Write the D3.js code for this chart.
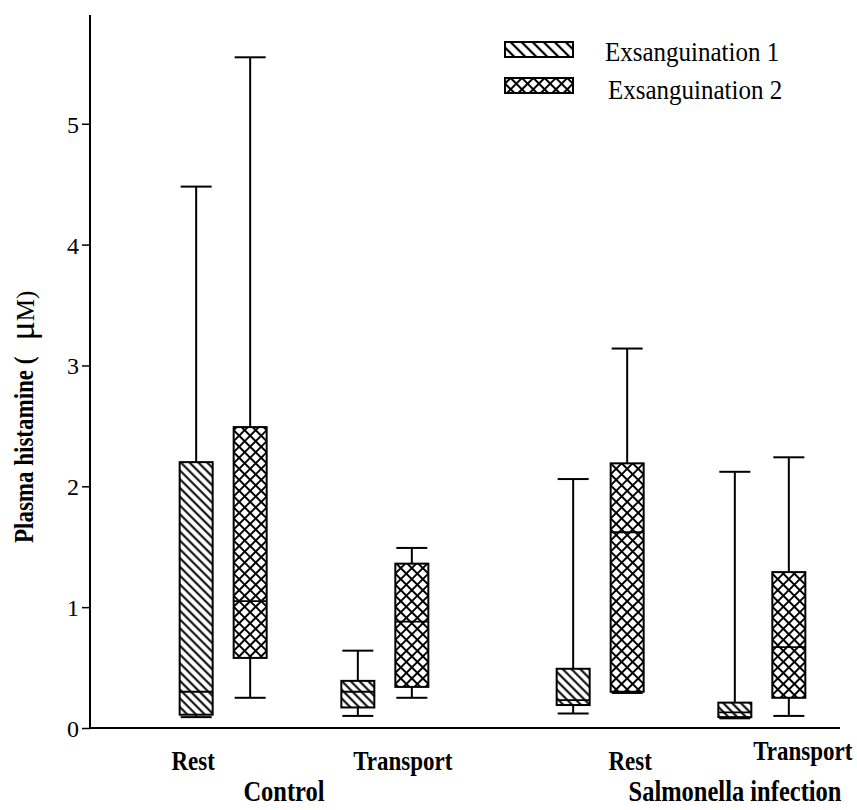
<!DOCTYPE html>
<html>
<head>
<meta charset="utf-8">
<script src="https://cdn.jsdelivr.net/npm/d3@7"></script>
<style>
    body { margin: 0; background: #fff; }
    svg { display: block; }
    svg text { font-family: "Liberation Serif", "Times New Roman", Times, "DejaVu Serif", serif; }
</style>
</head>
<body>
<svg id="chart" width="857" height="810"></svg>
<script>
// groups / conditions / series
var groups = ["Control", "Salmonella infection"];
var conditions = ["Rest", "Transport"];
var series = ["Exsanguination 1", "Exsanguination 2"];
var yTicks = [0, 1, 2, 3, 4, 5];

// box stats per cell: [min, q1, median, q3, max]
// order: Control Rest, Control Transport, Salmonella Rest, Salmonella Transport
var exsang1 = [
    [0.09, 0.11, 0.30, 2.20, 4.48],
    [0.10, 0.17, 0.30, 0.39, 0.64],
    [0.12, 0.19, 0.23, 0.49, 2.06],
    [0.08, 0.09, 0.13, 0.21, 2.12]
];
var exsang2 = [
    [0.25, 0.58, 1.05, 2.49, 5.55],
    [0.25, 0.34, 0.88, 1.36, 1.49],
    [0.29, 0.30, 1.62, 2.19, 3.14],
    [0.10, 0.25, 0.67, 1.29, 2.24]
];

var svg = d3.select("#chart");
var boxWidth = 33;
var serifFont = "'Liberation Serif', 'Times New Roman', Times, 'DejaVu Serif', serif";
var stretch = 1.18; // the original lettering is drawn taller than normal

var y = d3.scaleLinear().domain([0, 5.9]).range([728, 15]);

// nested x scales: group -> condition -> series
var xGroup = d3.scaleBand().domain(groups).range([115.5, 869.5]).padding(0);
var xCond = d3.scalePoint().domain(conditions).range([0, xGroup.bandwidth()]).padding(0.666);
var xSeries = d3.scalePoint().domain(series).range([-27, 27]);

// patterns
var defs = svg.append("defs");

function addHatch(id, size, sw) {
    var p = defs.append("pattern")
        .attr("id", id)
        .attr("patternUnits", "userSpaceOnUse")
        .attr("width", size)
        .attr("height", size)
        .attr("patternTransform", "rotate(-45)");
    p.append("line")
        .attr("x1", size / 2).attr("y1", 0)
        .attr("x2", size / 2).attr("y2", size)
        .attr("stroke", "#000")
        .attr("stroke-width", sw);
}

function addCross(id, size, sw) {
    var p = defs.append("pattern")
        .attr("id", id)
        .attr("patternUnits", "userSpaceOnUse")
        .attr("width", size)
        .attr("height", size)
        .attr("patternTransform", "rotate(45)");
    p.append("line")
        .attr("x1", size / 2).attr("y1", 0)
        .attr("x2", size / 2).attr("y2", size)
        .attr("stroke", "#000")
        .attr("stroke-width", sw);
    p.append("line")
        .attr("x1", 0).attr("y1", size / 2)
        .attr("x2", size).attr("y2", size / 2)
        .attr("stroke", "#000")
        .attr("stroke-width", sw);
}

addHatch("hatch1", 6.2, 2);
addCross("hatch2", 7.8, 2);
addHatch("hatch1legend", 7.8, 2.2);
addCross("hatch2legend", 8, 2);

var fills = ["url(#hatch1)", "url(#hatch2)"];
var legendFills = ["url(#hatch1legend)", "url(#hatch2legend)"];

// build the boxes from the arrays
var cells = [];
groups.forEach(function (g, gi) {
    conditions.forEach(function (c, ci) {
        var idx = gi * conditions.length + ci;
        [exsang1, exsang2].forEach(function (arr, si) {
            var s = arr[idx];
            cells.push({
                group: g, condition: c, series: series[si], si: si,
                min: s[0], q1: s[1], median: s[2], q3: s[3], max: s[4]
            });
        });
    });
});

function cx(d) {
    return xGroup(d.group) + xCond(d.condition) + xSeries(d.series);
}

var boxes = svg.selectAll(".box")
    .data(cells)
    .enter()
    .append("g")
    .attr("class", "box")
    .attr("transform", function (d) { return "translate(" + cx(d) + ",0)"; });

// whisker stems
boxes.append("line")
    .attr("x1", 0).attr("x2", 0)
    .attr("y1", function (d) { return y(d.max); })
    .attr("y2", function (d) { return y(d.q3); })
    .attr("stroke", "#000").attr("stroke-width", 2);
boxes.append("line")
    .attr("x1", 0).attr("x2", 0)
    .attr("y1", function (d) { return y(d.q1); })
    .attr("y2", function (d) { return y(d.min); })
    .attr("stroke", "#000").attr("stroke-width", 2);

// caps
boxes.append("line")
    .attr("x1", -boxWidth / 2 + 1).attr("x2", boxWidth / 2 - 1)
    .attr("y1", function (d) { return y(d.max); })
    .attr("y2", function (d) { return y(d.max); })
    .attr("stroke", "#000").attr("stroke-width", 2);
boxes.append("line")
    .attr("x1", -boxWidth / 2 + 1).attr("x2", boxWidth / 2 - 1)
    .attr("y1", function (d) { return y(d.min); })
    .attr("y2", function (d) { return y(d.min); })
    .attr("stroke", "#000").attr("stroke-width", 2);

boxes.append("rect")
    .attr("x", -boxWidth / 2)
    .attr("width", boxWidth)
    .attr("y", function (d) { return y(d.q3); })
    .attr("height", function (d) { return y(d.q1) - y(d.q3); })
    .attr("fill", "#fff")
    .attr("stroke", "none");
boxes.append("rect")
    .attr("x", -boxWidth / 2)
    .attr("width", boxWidth)
    .attr("y", function (d) { return y(d.q3); })
    .attr("height", function (d) { return y(d.q1) - y(d.q3); })
    .attr("fill", function (d) { return fills[d.si]; })
    .attr("stroke", "#000")
    .attr("stroke-width", 2);

// median
boxes.append("line")
    .attr("x1", -boxWidth / 2).attr("x2", boxWidth / 2)
    .attr("y1", function (d) { return y(d.median); })
    .attr("y2", function (d) { return y(d.median); })
    .attr("stroke", "#000").attr("stroke-width", 1.8);

// axes
var axisY = d3.axisLeft(y).tickValues(yTicks).tickSize(8).tickPadding(3).tickFormat(d3.format("d"));
var gy = svg.append("g")
    .attr("transform", "translate(90,0)")
    .call(axisY)
    .attr("font-family", serifFont)
    .attr("font-size", 24);
gy.select(".domain").attr("d", "M0," + y(5.9) + "V" + y(0)).attr("stroke-width", 2);
gy.selectAll(".tick line").attr("stroke-width", 1.5);
gy.selectAll(".tick text")
    .attr("fill", "#000")
    .attr("dy", "0.35em");

svg.append("line")
    .attr("x1", 89).attr("x2", 840)
    .attr("y1", y(0)).attr("y2", y(0))
    .attr("stroke", "#000").attr("stroke-width", 2);

// y title, reads bottom to top; the unit part is a separate text so the big mu stays unstretched
var titleStart = 543;
var ytitle = svg.append("text")
    .attr("transform", "translate(33," + titleStart + ") rotate(-90) scale(1," + stretch + ")")
    .attr("text-anchor", "start")
    .attr("font-weight", "bold")
    .attr("font-size", 23)
    .text("Plasma histamine (");
var titleLen = ytitle.node().getComputedTextLength();

var yunit = svg.append("text")
    .attr("transform", "translate(34," + (titleStart - titleLen - 16) + ") rotate(-90)")
    .attr("text-anchor", "start");
yunit.append("tspan").attr("font-size", 36).text("μ");
yunit.append("tspan").attr("font-size", 25).text("M)");

// category labels (hand nudged like the original)
var condNudge = [[-30, 0], [18, 0], [30, 0], [41, -10]];
var condLabels = [];
groups.forEach(function (g) {
    conditions.forEach(function (c) { condLabels.push({ group: g, condition: c }); });
});
svg.selectAll(".condlabel")
    .data(condLabels)
    .enter()
    .append("text")
    .attr("class", "condlabel")
    .attr("transform", function (d, i) {
        var lx = xGroup(d.group) + xCond(d.condition) + condNudge[i][0];
        var ly = 770 + condNudge[i][1];
        return "translate(" + lx + "," + ly + ") scale(1," + stretch + ")";
    })
    .attr("text-anchor", "middle")
    .attr("font-weight", "bold")
    .attr("font-size", 23)
    .text(function (d) { return d.condition; });

var groupNudge = [-20, 54];
svg.selectAll(".grouplabel")
    .data(groups)
    .enter()
    .append("text")
    .attr("class", "grouplabel")
    .attr("transform", function (d, i) {
        var lx = xGroup(d) + xGroup.bandwidth() / 2 + groupNudge[i];
        return "translate(" + lx + ",801) scale(1," + stretch + ")";
    })
    .attr("text-anchor", "middle")
    .attr("font-weight", "bold")
    .attr("font-size", 24.5)
    .text(function (d) { return d; });

// legend
var legend = svg.selectAll(".legend")
    .data(series)
    .enter()
    .append("g")
    .attr("class", "legend")
    .attr("transform", function (d, i) { return "translate(505," + (42 + i * 36) + ")"; });
legend.append("rect")
    .attr("width", 68).attr("height", 15)
    .attr("fill", function (d, i) { return legendFills[i]; })
    .attr("stroke", "#000").attr("stroke-width", 2);
legend.append("text")
    .attr("transform", function (d, i) {
        return "translate(" + (100 + i * 3) + "," + (19 + i * 2) + ") scale(1,1.08)";
    })
    .attr("font-size", 25)
    .text(function (d) { return d; });
</script>
</body>
</html>
